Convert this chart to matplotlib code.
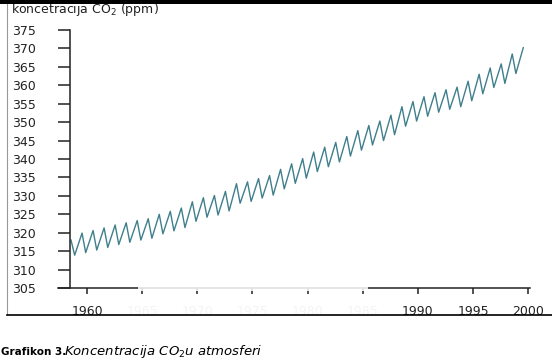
import matplotlib
matplotlib.use('Agg')
import matplotlib.pyplot as plt
import matplotlib.transforms as mtransforms
from matplotlib.patches import Rectangle
from matplotlib.lines import Line2D

# seasonal maxima (spring) and minima (autumn), ppm
years = list(range(1958, 2000))
peak_ppm = [318.0, 319.9, 320.6, 321.3, 322.1, 322.7, 323.3, 323.8, 325.0, 325.8,
            326.7, 328.4, 329.5, 330.1, 331.2, 333.3, 333.8, 334.7, 335.5, 337.2,
            338.7, 340.1, 341.9, 343.2, 344.5, 346.1, 347.7, 349.1, 350.3, 351.9,
            354.2, 355.6, 356.9, 358.0, 358.8, 359.5, 361.1, 363.0, 364.7, 365.8,
            368.5, 370.2]
trough_ppm = [313.9, 314.6, 315.3, 316.0, 316.8, 317.4, 318.0, 318.5, 319.7, 320.5,
              321.4, 323.1, 324.2, 324.8, 325.9, 328.0, 328.5, 329.4, 330.2, 331.9,
              333.4, 334.8, 336.6, 337.9, 339.2, 340.8, 342.4, 343.8, 345.0, 346.6,
              348.9, 350.3, 351.6, 352.7, 353.5, 354.2, 355.8, 357.7, 359.4, 360.5,
              363.2]
peak_month = 0.55    # fraction of year where the maximum sits
trough_month = 0.88

ytick_vals = [305, 310, 315, 320, 325, 330, 335, 340, 345, 350, 355, 360, 365, 370, 375]
xtick_vals = [1960, 1965, 1970, 1975, 1980, 1985, 1990, 1995, 2000]
faded_years = [1965, 1970, 1975, 1980, 1985]   # washed out in the scan

t = []
ppm = []
for i, yr in enumerate(years):
    t.append(yr + peak_month)
    ppm.append(peak_ppm[i])
    if i < len(trough_ppm):
        t.append(yr + trough_month)
        ppm.append(trough_ppm[i])

fig = plt.figure(figsize=(5.52, 3.6), dpi=100)
fig.patch.set_facecolor('white')
ax = fig.add_axes([58 / 552, 72 / 360, 472 / 552, 258 / 360])

ax.plot(t, ppm, color='#3f7f8c', lw=1.0)

ax.set_xlim(1957.37, 2000.16)
ax.set_ylim(305, 375)
ax.spines['top'].set_visible(False)
ax.spines['right'].set_visible(False)
ax.spines['left'].set_position(('data', 1958.46))
for s in ['left', 'bottom']:
    ax.spines[s].set_linewidth(1.1)
    ax.spines[s].set_color('#222222')

ax.set_yticks(ytick_vals)
ax.set_yticklabels([str(v) for v in ytick_vals])
ax.set_xticks(xtick_vals)
ax.set_xticklabels([str(v) for v in xtick_vals])
ax.tick_params(axis='y', direction='out', length=8.6, width=1.1, pad=16,
               labelsize=9, colors='#222222')
ax.tick_params(axis='x', direction='out', length=4.3, width=1.1, pad=8,
               labelsize=9, colors='#222222')

for tick in ax.xaxis.get_major_ticks():
    if tick.get_loc() in faded_years:
        tick.tick1line.set_color('#f5f5f5')
        tick.label1.set_color('#f4f4f4')

# washed-out middle stretch of the x axis line
trans = mtransforms.blended_transform_factory(ax.transData, ax.transAxes)
ax.add_patch(Rectangle((1964.6, -0.01), 1985.45 - 1964.6, 0.016, transform=trans,
                       facecolor='white', alpha=0.85, edgecolor='none',
                       clip_on=False, zorder=5))

fig.text(11 / 552, 1 - 9 / 360, 'koncetracija CO$_2$ (ppm)', fontsize=9,
         color='#222222', va='center', ha='left')

# page frame
fig.patches.append(Rectangle((0, 1 - 3.5 / 360), 1, 3.5 / 360, transform=fig.transFigure,
                             facecolor='black', edgecolor='none', zorder=10))
fig.lines.append(Line2D([7 / 552, 7 / 552], [1 - 3 / 360, 1 - 315 / 360],
                        transform=fig.transFigure, color='#999999', lw=0.8))
fig.lines.append(Line2D([7 / 552, 1], [1 - 315 / 360, 1 - 315 / 360],
                        transform=fig.transFigure, color='black', lw=1.2))

fig.text(1 / 552, 1 - 352 / 360, 'Grafikon 3.', fontsize=7.5, fontweight='bold',
         va='center', ha='left', color='black')
fig.text(64 / 552, 1 - 352 / 360, 'Koncentracija CO$_2$u atmosferi', fontsize=9.5,
         style='italic', va='center', ha='left', color='black')

fig.savefig('out.png', dpi=100)
